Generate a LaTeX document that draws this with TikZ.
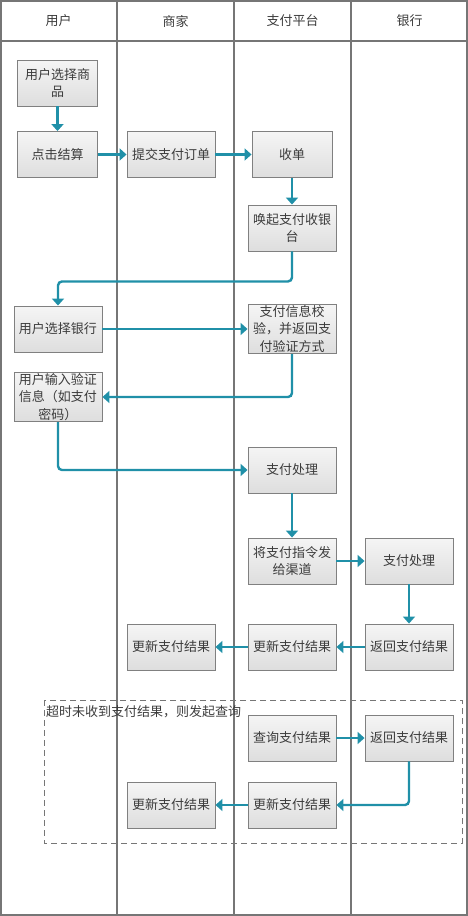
\documentclass[tikz,border=0pt]{standalone}
\usepackage{fontspec}
\setmainfont{Noto Sans CJK SC}
\usetikzlibrary{arrows.meta}

\definecolor{flowc}{RGB}{32,144,168}
\definecolor{lanec}{RGB}{118,118,118}
\definecolor{boxc}{RGB}{128,128,128}
\definecolor{textc}{RGB}{60,60,60}

\tikzset{
	stepbox/.style={rectangle, draw=boxc, line width=.9pt, top color=white!96!black, bottom color=black!13,
		minimum width=88pt, minimum height=46pt, inner sep=1pt, align=center, text=textc,
		font=\fontsize{13pt}{17.5pt}\selectfont},
	narrow/.style={stepbox, minimum width=80pt},
	lanetitle/.style={text=textc, font=\fontsize{13pt}{16pt}\selectfont},
	flow/.style={draw=flowc, line width=2.4pt, rounded corners=4pt, -{Triangle[length=7pt,width=12pt]}}
}

\begin{document}
\begin{tikzpicture}
	[x=1pt,y=-1pt]
	\useasboundingbox (0,0) rectangle (468,916);
	
	% lanes
	\draw[lanec, line width=2pt] (1,1) rectangle (467,915);
	\draw[lanec, line width=2pt] (1,41) -- (467,41);
	\foreach \lx in {117,234,351}
		\draw[lanec, line width=2pt] (\lx,1) -- (\lx,915);
	
	\node[lanetitle] (h1) at (58.5,21) {用户};
	\node[lanetitle] (h2) at (175.5,21) {商家};
	\node[lanetitle] (h3) at (292.5,21) {支付平台};
	\node[lanetitle] (h4) at (409.5,21) {银行};
	
	% query frame
	\draw[lanec, line width=.9pt, dash pattern=on 6pt off 4pt] (44,700) rectangle (462,843);
	\node[text=textc, font=\fontsize{13pt}{16pt}\selectfont, anchor=west, inner sep=1pt] (qlabel) at (45,712) {超时未收到支付结果，则发起查询};
	
	% steps
	\node[narrow] (u1) at (57.5,83) {用户选择商\\品};
	\node[narrow] (u2) at (57.5,154.5) {点击结算};
	\node[stepbox] (m1) at (171,154.5) {提交支付订单};
	\node[narrow] (p1) at (292,154.5) {收单};
	\node[stepbox] (p2) at (292,228) {唤起支付收银\\台};
	\node[stepbox] (u3) at (58,329) {用户选择银行};
	\node[stepbox] (p3) at (292,329) {支付信息校\\验，并返回支\\付验证方式};
	\node[stepbox] (u4) at (58,397) {用户输入验证\\信息（如支付\\密码）};
	\node[stepbox] (p4) at (292,470) {支付处理};
	\node[stepbox] (p5) at (292,561) {将支付指令发\\给渠道};
	\node[stepbox] (b1) at (409,561) {支付处理};
	\node[stepbox] (m2) at (171,647) {更新支付结果};
	\node[stepbox] (p6) at (292,647) {更新支付结果};
	\node[stepbox] (b2) at (409,647) {返回支付结果};
	\node[stepbox] (p7) at (292,738) {查询支付结果};
	\node[stepbox] (b3) at (409,738) {返回支付结果};
	\node[stepbox] (m3) at (171,805) {更新支付结果};
	\node[stepbox] (p8) at (292,805) {更新支付结果};
	
	% connectors
	\draw[flow] (u1) -- (u2);
	\draw[flow] (u2) -- (m1);
	\draw[flow] (m1) -- (p1);
	\draw[flow] (p1) -- (p2);
	\draw[flow] (p2.south) -- ++(0,30) -| (u3.north);
	\draw[flow] (u3) -- (p3);
	\draw[flow] (p3.south) |- (u4.east);
	\draw[flow] (u4.south) |- (p4.west);
	\draw[flow] (p4) -- (p5);
	\draw[flow] (p5) -- (b1);
	\draw[flow] (b1) -- (b2);
	\draw[flow] (b2) -- (p6);
	\draw[flow] (p6) -- (m2);
	\draw[flow] (p7) -- (b3);
	\draw[flow] (b3.south) |- (p8.east);
	\draw[flow] (p8) -- (m3);
\end{tikzpicture}
\end{document}
